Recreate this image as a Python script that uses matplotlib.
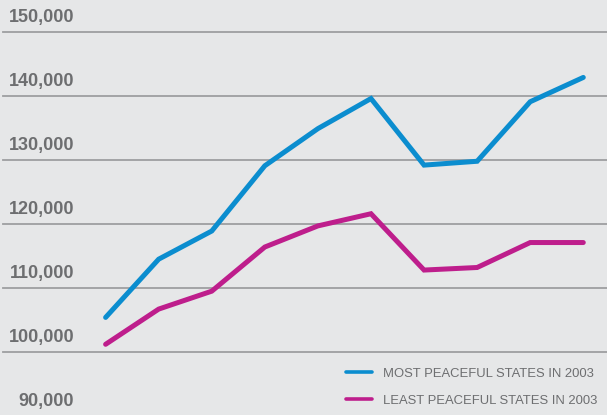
import numpy as np
import matplotlib.pyplot as plt

# data (no x labels shown, 10 evenly spaced periods)
periods = list(range(10))
most_peaceful = [105400, 114500, 118900, 129100, 134900, 139600, 129200, 129800, 139100, 142900]
least_peaceful = [101200, 106700, 109500, 116400, 119700, 121600, 112800, 113200, 117100, 117100]
y_ticks = [90000, 100000, 110000, 120000, 130000, 140000, 150000]

BG = '#e6e7e8'
BLUE = '#0b8dcf'
MAGENTA = '#be1e8c'
GREY = '#6d6e70'

plt.rcParams['font.family'] = ['Liberation Sans', 'DejaVu Sans']

fig = plt.figure(figsize=(6.07, 4.15), dpi=100, facecolor=BG)
ax = fig.add_axes([0, 0, 1, 1], facecolor=BG)

# gridlines with labels sitting just above them
for t in y_ticks:
    ax.axhline(t, xmin=3 / 607, xmax=1, color='#9d9ea0', lw=1.3, zorder=1)
    ax.text(-0.59, t + 900, f'{t:,}', ha='right', va='bottom',
            fontsize=13, color=GREY, fontweight='bold')

ax.plot(periods, most_peaceful, color=BLUE, lw=3.6, solid_capstyle='round',
        solid_joinstyle='miter', label='MOST PEACEFUL STATES IN 2003', zorder=3)
ax.plot(periods, least_peaceful, color=MAGENTA, lw=3.6, solid_capstyle='round',
        solid_joinstyle='miter', label='LEAST PEACEFUL STATES IN 2003', zorder=3)

ax.set_xlim(-1.99, 9.447)
ax.set_ylim(90150, 155000)
ax.axis('off')

# legend placed bottom right, handles starting around x=346px
leg = ax.legend(loc='center left', bbox_to_anchor=(346 / 607, 28 / 415),
                bbox_transform=fig.transFigure, frameon=False,
                fontsize=9.4, handlelength=2.0, handletextpad=0.84,
                labelspacing=1.14, borderpad=0, borderaxespad=0)
for txt in leg.get_texts():
    txt.set_color(GREY)
for line in leg.get_lines():
    line.set_linewidth(2.6)

fig.savefig('out.png', dpi=100, facecolor=BG)
